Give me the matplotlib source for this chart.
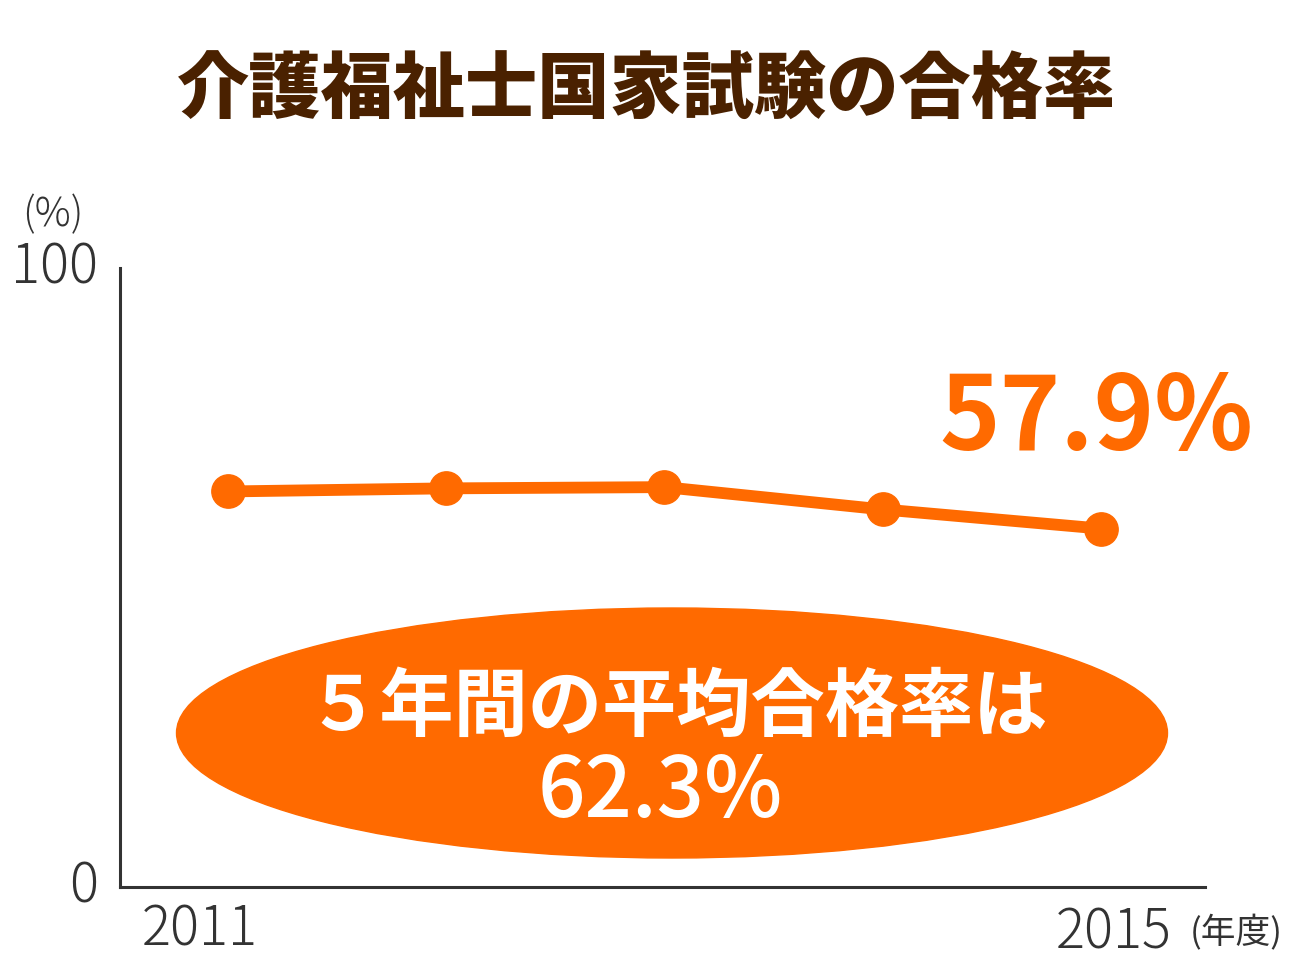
import matplotlib.pyplot as plt
from matplotlib.patches import Ellipse

plt.rcParams['font.family'] = ['Noto Sans CJK JP', 'DejaVu Sans']

years = [2011, 2012, 2013, 2014, 2015]
rates = [63.9, 64.4, 64.6, 61.0, 57.9]
avg_rate = 62.3
title = '介護福祉士国家試験の合格率'

orange = '#ff6a00'
brown = '#4a2100'
grey = '#333333'

fig = plt.figure(figsize=(13, 9.75), dpi=100)
ax = fig.add_axes([120 / 1300, 88 / 975, 1085 / 1300, 619 / 975])

ax.plot(years, rates, color=orange, linewidth=8.5, marker='o',
        markersize=24, solid_joinstyle='round', clip_on=False, zorder=3)

ax.set_xlim(2010.505, 2015.477)
ax.set_ylim(0, 100)
for s in ['top', 'right']:
    ax.spines[s].set_visible(False)
for s in ['left', 'bottom']:
    ax.spines[s].set_color(grey)
    ax.spines[s].set_linewidth(2.2)
ax.set_xticks([])
ax.set_yticks([])

# axis labels drawn as text
ax.text(-0.02, 1.0, '100', transform=ax.transAxes, ha='right', va='center',
        fontsize=39, color=grey, fontweight='light')
ax.text(-0.02, 0.0, '0', transform=ax.transAxes, ha='right', va='center',
        fontsize=39, color=grey, fontweight='light')
ax.text(-0.062, 1.085, '(%)', transform=ax.transAxes, ha='center', va='center',
        fontsize=29, color=grey, fontweight='light')
ax.text(2010.87, -7, str(years[0]), ha='center', va='center',
        fontsize=39, color=grey, fontweight='light', clip_on=False)
ax.text(2015.06, -7.5, str(years[-1]), ha='center', va='center',
        fontsize=39, color=grey, fontweight='light', clip_on=False)
ax.text(2015.62, -7.5, '(年度)', ha='center', va='center',
        fontsize=25, color=grey, clip_on=False)

# last value label
ax.text(years[-1] - 0.02, 75.5, f'{rates[-1]}%', ha='center', va='center',
        fontsize=74, color=orange, fontweight='bold')

# average ellipse
ell = Ellipse((672 / 1300, (975 - 733) / 975), 991 / 1300, 250 / 975,
              transform=fig.transFigure, color=orange, zorder=1)
fig.patches.append(ell)
fig.text(677 / 1300, (975 - 708) / 975, '５年間の平均合格率は', ha='center',
         va='center', fontsize=53.5, color='white', fontweight='bold')
fig.text(660 / 1300, (975 - 793) / 975, f'{avg_rate}%', ha='center',
         va='center', fontsize=60, color='white', fontweight='medium')

fig.text(647 / 1300, (975 - 92) / 975, title, ha='center', va='center',
         fontsize=52, color=brown, fontweight='black')

fig.savefig('out.png', dpi=100)
